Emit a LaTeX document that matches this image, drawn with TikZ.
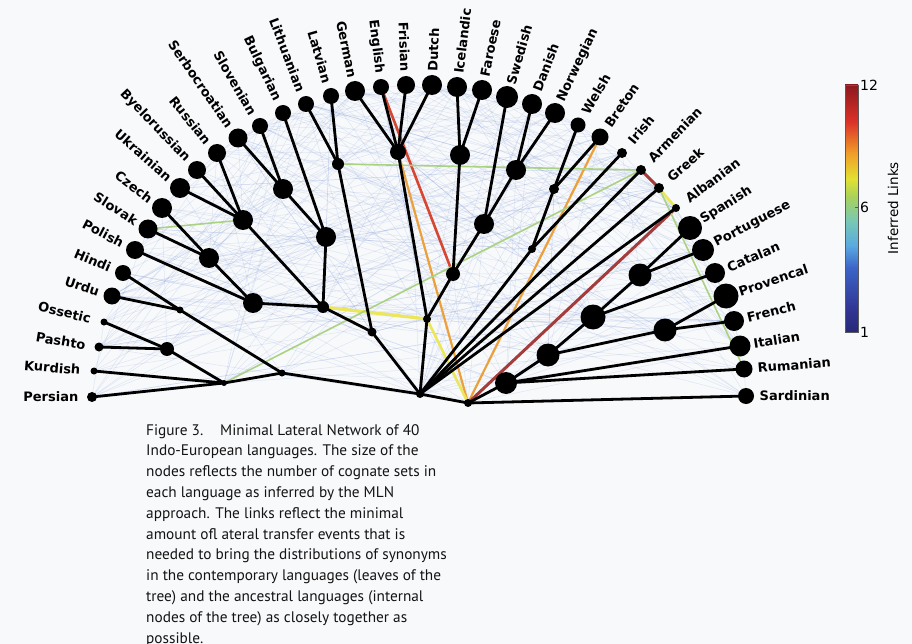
\documentclass[tikz,border=0pt]{standalone}
\usepackage{fontspec}
\setmainfont{DejaVu Sans}
\newfontfamily\captionfont{PT Sans}
\usetikzlibrary{backgrounds}
\definecolor{paper}{RGB}{248,249,251}
\definecolor{faintblue}{RGB}{120,150,215}
\definecolor{linkred}{RGB}{215,70,50}
\definecolor{linkorange}{RGB}{235,160,60}
\definecolor{linkbrown}{RGB}{165,60,60}
\definecolor{linkyellow}{RGB}{235,230,90}
\definecolor{linkgreen}{RGB}{170,210,130}
\definecolor{barframe}{RGB}{90,90,90}
\definecolor{captionink}{RGB}{20,20,20}
\definecolor{jeta}{RGB}{40,40,120}
\definecolor{jetb}{RGB}{50,55,150}
\definecolor{jetc}{RGB}{60,100,200}
\definecolor{jetd}{RGB}{90,170,225}
\definecolor{jete}{RGB}{120,200,180}
\definecolor{jetf}{RGB}{170,210,90}
\definecolor{jetg}{RGB}{225,225,50}
\definecolor{jeth}{RGB}{240,160,40}
\definecolor{jeti}{RGB}{220,50,40}
\definecolor{jetj}{RGB}{140,25,30}
\pgfdeclareverticalshading{jetbar}{100bp}{color(0bp)=(jeta); color(25bp)=(jeta);
  color(30bp)=(jetb); color(38bp)=(jetc); color(42.5bp)=(jetd); color(47.5bp)=(jete);
  color(52.5bp)=(jetf); color(56bp)=(jetg); color(61bp)=(jeth); color(67.5bp)=(jeti);
  color(75bp)=(jetj); color(100bp)=(jetj)}
\tikzset{
  dot/.style={circle, fill=black, inner sep=0pt, outer sep=0pt},
  langlabel/.style={font=\fontsize{13}{15}\selectfont\bfseries, inner sep=0.5pt},
  treeedge/.style={line width=2.8pt},
  faintlink/.style={faintblue, opacity=0.2, line width=0.5pt},
  captext/.style={font=\captionfont\fontsize{15.3}{18}\selectfont, text=captionink, inner sep=0pt}
}

\begin{document}
\begin{tikzpicture}[x=1pt, y=-1pt]
  \useasboundingbox (0,0) rectangle (912,644);
  \begin{scope}[on background layer]
    \fill[paper] (0,0) rectangle (912,644);
  \end{scope}
  % leaves on the half circle, label pointing outward
  \foreach \lname/\x/\y/\rad [count=\i from 0] in {
      Persian/92/397/5, Kurdish/94/371/3.5, Pashto/99/347/4.5, Ossetic/104/322/3.5,
      Urdu/112/296/8.5, Hindi/123/273/8, Polish/135/250/9, Slovak/148/229/9.5,
      Czech/162/208/10, Ukrainian/180/188/10, Byelorussian/197/170/9, Russian/217/153/9,
      Serbocroatian/238/138/9.5, Slovenian/260/126/8, Bulgarian/283/113/8,
      Lithuanian/306/104/8, Latvian/331/96/8, German/355/91/10, English/381/87/8,
      Frisian/406/85/9, Dutch/432/85/10, Icelandic/457/87/10, Faroese/482/90/10,
      Swedish/507/97/11, Danish/532/104/10, Norwegian/555/113/10, Welsh/578/125/7.5,
      Breton/600/137/8.5, Irish/622/153/5, Armenian/641/170/5, Greek/659/188/5,
      Albanian/676/208/4, Spanish/690/228/12, Portuguese/703/250/11, Catalan/715/273/10,
      Provencal/726/296/12.5, French/734/321/10, Italian/740/346/10.5,
      Rumanian/744/369/8.5, Sardinian/746/396/8} {
    \pgfmathsetmacro\ang{180-\i*180/39}
    \pgfmathsetmacro\dia{2*\rad}
    \pgfmathtruncatemacro\idx{\i+1}
    \node[dot, minimum size=\dia pt, alias=L\idx] (\lname) at (\x,\y) {};
    \ifdim\ang pt>90pt
      \pgfmathsetmacro\rot{\ang-180}
      \node[langlabel, rotate=\rot, anchor=east] (lab\idx) at ([shift={(\ang:13pt)}]\lname.center) {\lname};
    \else
      \node[langlabel, rotate=\ang, anchor=west] (lab\idx) at ([shift={(\ang:13pt)}]\lname.center) {\lname};
    \fi
  }
  % ancestral nodes
  \foreach \nm/\x/\y/\rad [count=\idx from 41] in {
      perku/224/383/3, ospa/167/349/7, hiur/180/310/3.5, indir/282/373/3.5,
      slcz/209/258/10, wslav/253/303/10, eslav/243/220/10, srsl/283/189/10,
      sslav/326/237/10, slav/323/307/6, balt/338/164/6, balsl/372/332/4.5,
      wgerm/398/152/8, icfa/460/155/10, dano/516/170/10, swdn/484/224/10,
      ngerm/453/274/7, germ/427/319/4, webr/554/189/5, celt/532/249/4,
      root/420/394/4, rootb/468/403/4, sppo/640/275/11.5, ibca/593/317/12.5,
      wrom/548/355/11.5, prfr/665/330/11.5, itrom/506/383/11} {
    \pgfmathsetmacro\dia{2*\rad}
    \node[dot, minimum size=\dia pt, alias=L\idx] (\nm) at (\x,\y) {};
  }
  \begin{scope}[on background layer]
    % faint links between all pairs
    \pgfmathsetseed{7}
    \foreach \n in {1,...,320} {
      \pgfmathrandominteger{\pa}{1}{67}
      \pgfmathrandominteger{\pb}{1}{67}
      \draw[faintlink] (L\pa.center) -- (L\pb.center);
    }
    % inferred lateral links
    \foreach \a/\b/\c/\w in {English/ngerm/linkred/2.6, wgerm/rootb/linkorange/2.2,
        Breton/rootb/linkorange/2.2, Albanian/rootb/linkbrown/3, Armenian/Greek/linkbrown/3,
        Greek/Albanian/linkyellow/2.6, slav/germ/linkyellow/3.2, germ/rootb/linkyellow/2.6,
        Slovak/eslav/linkgreen/1.6, balt/Armenian/linkgreen/1.6, perku/Armenian/linkgreen/1.6,
        Greek/Rumanian/linkgreen/1.6}
      \draw[color=\c, line width=\w pt] (\a.center) -- (\b.center);
    % tree
    \foreach \a/\b in {Persian/perku, Kurdish/perku, Pashto/ospa, Ossetic/ospa, ospa/perku,
        perku/indir, Hindi/hiur, Urdu/hiur, hiur/indir, indir/root,
        Polish/wslav, Slovak/slcz, Czech/slcz, slcz/wslav, wslav/slav, Ukrainian/eslav,
        Byelorussian/eslav, Russian/eslav, eslav/slav, Serbocroatian/srsl, Slovenian/srsl,
        srsl/sslav, Bulgarian/sslav, sslav/slav, slav/balsl, Lithuanian/balt, Latvian/balt,
        balt/balsl, balsl/root,
        German/wgerm, English/wgerm, Frisian/wgerm, Dutch/wgerm, wgerm/germ, Icelandic/icfa,
        Faroese/icfa, icfa/ngerm, Swedish/swdn, Danish/dano, Norwegian/dano, dano/swdn,
        swdn/ngerm, ngerm/germ, germ/root,
        Welsh/webr, Breton/webr, webr/celt, Irish/celt, celt/root, Armenian/root,
        Greek/root, Albanian/root, root/rootb,
        Spanish/sppo, Portuguese/sppo, sppo/ibca, Catalan/ibca, ibca/wrom, Provencal/prfr,
        French/prfr, prfr/wrom, wrom/itrom, Italian/itrom, Rumanian/itrom, itrom/rootb,
        Sardinian/rootb}
      \draw[treeedge] (\a.center) -- (\b.center);
  \end{scope}
  % colour bar
  \shade[shading=jetbar] (845,85) rectangle (858,332);
  \draw[line width=0.5pt, draw=barframe] (845,85) rectangle (858,332);
  \foreach \v/\y in {12/85, 6/207, 1/332} {
    \draw[line width=0.5pt, draw=barframe] (855,\y) -- (858,\y);
    \node[anchor=west, font=\fontsize{14}{16}\selectfont, inner sep=0pt] (tick\v) at (860,\y) {\v};
  }
  \node[rotate=90, font=\fontsize{13.5}{16}\selectfont, inner sep=0pt] (barname) at (893,208) {Inferred Links};
  % caption
  \foreach \line [count=\j from 0] in {Figure 3.\hspace{1.1em}Minimal Lateral Network of 40,
      Indo-European languages. The size of the,
      nodes reflects the number of cognate sets in,
      each language as inferred by the MLN,
      approach. The links reflect the minimal,
      amount ofl ateral transfer events that is,
      needed to bring the distributions of synonyms,
      in the contemporary languages (leaves of the,
      tree) and the ancestral languages (internal,
      nodes of the tree) as closely together as,
      possible.}
    \node[captext, anchor=base west] (cap\j) at (146,{435+20.8*\j}) {\line};
\end{tikzpicture}
\end{document}
